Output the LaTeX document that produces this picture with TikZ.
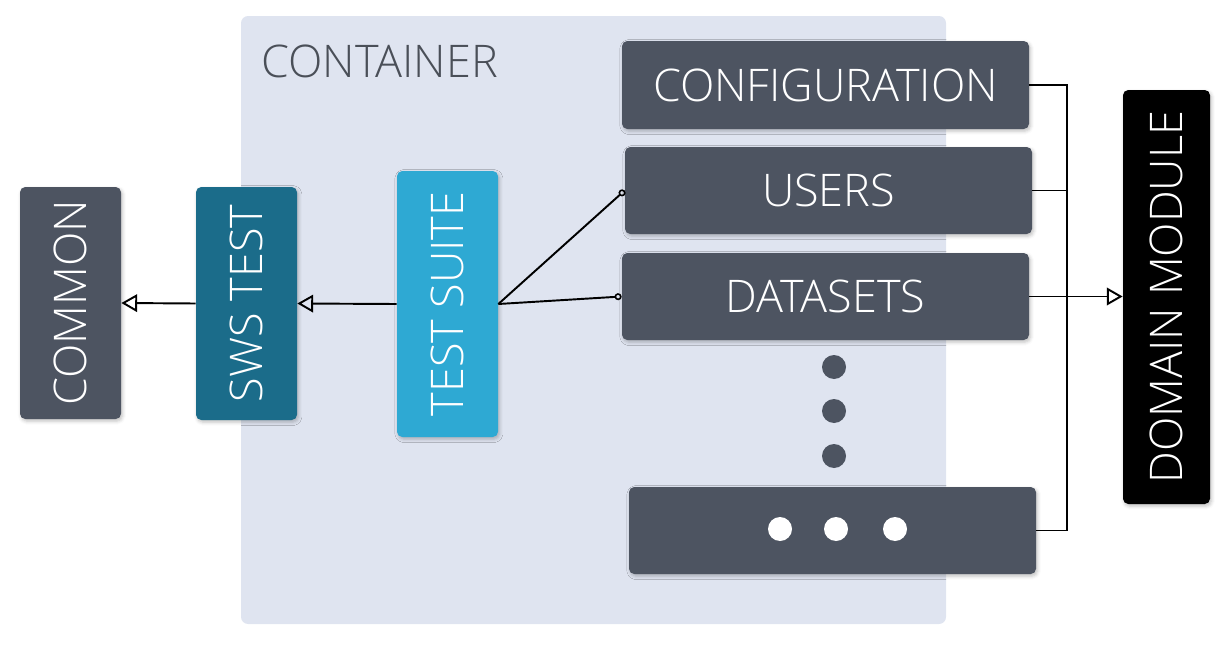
\documentclass[tikz,border=0pt]{standalone}
\usepackage{fontspec}
\setmainfont{Open Sans Light}
\usepackage{graphicx}
\usetikzlibrary{arrows.meta,shadows.blur}
\definecolor{slate}{HTML}{4D5461}
\definecolor{swsblue}{HTML}{1B6C8A}
\definecolor{suiteblue}{HTML}{2EA9D3}
\definecolor{contbg}{HTML}{DFE4F0}
\definecolor{conttext}{HTML}{4A4F58}
\begin{document}
\begin{tikzpicture}[x=0.02cm,y=-0.02cm,
	module/.style={rectangle,rounded corners=3pt,fill=slate,text=white,inner sep=0pt,
		font=\fontsize{25.6}{28}\selectfont,
		blur shadow={shadow xshift=0.8pt,shadow yshift=-1.2pt,shadow blur radius=2pt,shadow opacity=25}},
	link/.style={line width=1.1pt},
	inherit/.style={link,-{Triangle[open,length=9pt,width=10pt,line width=1.1pt]}},
	uses/.style={link,-{Circle[open,length=4pt,line width=0.9pt]}}]
	\useasboundingbox (0,0) rectangle (1231,649);
	% container
	\fill[contbg,rounded corners=4pt] (241,16) rectangle (946,624);
	\node[anchor=base west,text=conttext,font=\fontsize{25.6}{28}\selectfont,inner sep=0pt] (conttitle) at (261,77) {CONTAINER};
	% domain modules
	\node[module,minimum width=407*0.02cm,minimum height=88*0.02cm] (config) at (825.5,85) {CONFIGURATION};
	\node[module,minimum width=407*0.02cm,minimum height=87*0.02cm] (users) at (828.5,190.5) {USERS};
	\node[module,minimum width=407*0.02cm,minimum height=87*0.02cm] (datasets) at (825.5,296.5) {DATASETS};
	\node[module,minimum width=407*0.02cm,minimum height=87*0.02cm] (more) at (832.5,530.5) {};
	\foreach \y in {367,411,456}
		\fill[slate] (834,\y) circle (0.24cm);
	\foreach \x in {780,836,895}
		\fill[white] (\x,529) circle (0.24cm);
	% rotated boxes
	\node[module,fill=black,minimum width=87*0.02cm,minimum height=414*0.02cm] (domain) at (1166.5,297) {\rotatebox{90}{DOMAIN MODULE}};
	\node[module,minimum width=101*0.02cm,minimum height=232*0.02cm] (common) at (70.5,303) {\rotatebox{90}{COMMON}};
	\node[module,fill=swsblue,minimum width=101*0.02cm,minimum height=233*0.02cm] (swstest) at (246.5,303.5) {\rotatebox{90}{SWS TEST}};
	\node[module,fill=suiteblue,minimum width=101*0.02cm,minimum height=266*0.02cm] (suite) at (447.5,304) {\rotatebox{90}{TEST SUITE}};
	% connectors
	\coordinate (bus) at (1067,0);
	\draw[inherit] (swstest.west) -- (common.east);
	\draw[inherit] (suite.west) -- (swstest.east);
	\draw[uses] (suite.east) -- (users.west);
	\draw[uses] (suite.east) -- (datasets.west);
	\draw[link] (config.east) -- (config.east -| bus) -- (more.east -| bus) -- (more.east);
	\draw[link] (users.east) -- (users.east -| bus);
	\draw[inherit] (datasets.east) -- (domain.west |- datasets.east);
\end{tikzpicture}
\end{document}
